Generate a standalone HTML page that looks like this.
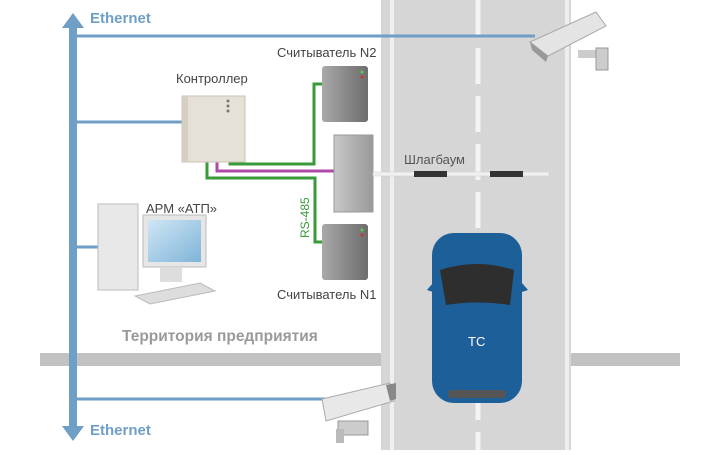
<!DOCTYPE html><html><head><meta charset="utf-8"><style>
body{margin:0;width:720px;height:450px;background:#fff;overflow:hidden;font-family:"Liberation Sans",sans-serif}
svg text{font-family:"Liberation Sans","Noto Sans CJK SC",sans-serif}
</style></head><body>
<svg width="720" height="450" viewBox="0 0 720 450">
<defs>
<linearGradient id="rd" x1="0" x2="1"><stop offset="0" stop-color="#aaa"/><stop offset=".5" stop-color="#8a8a8a"/><stop offset="1" stop-color="#6d6d6d"/></linearGradient>
<linearGradient id="gt" x1="0" x2="1"><stop offset="0" stop-color="#c8c8c8"/><stop offset="1" stop-color="#999"/></linearGradient>
<linearGradient id="scr" x1="0" y1="0" x2="1" y2="1"><stop offset="0" stop-color="#cfe6f5"/><stop offset="1" stop-color="#7fb4d8"/></linearGradient>
</defs>
<rect x="40" y="353" width="341" height="13" fill="#c2c2c2"/>
<rect x="571" y="353" width="109" height="13" fill="#c2c2c2"/>
<rect x="381" y="0" width="190" height="450" fill="#d6d6d6"/>
<rect x="390" y="0" width="4" height="450" fill="#efefef"/>
<rect x="565" y="0" width="4" height="450" fill="#efefef"/>
<line x1="478" y1="0" x2="478" y2="450" stroke="#f4f4f4" stroke-width="5" stroke-dasharray="36,12"/>
<rect x="69" y="26" width="8" height="402" fill="#6f9fc6"/>
<polygon points="62,28 73,13 84,28" fill="#6f9fc6"/>
<polygon points="62,426 73,441 84,426" fill="#6f9fc6"/>
<text x="90" y="23" font-size="15" font-weight="bold" fill="#6f9fc6">Ethernet</text>
<text x="90" y="435" font-size="15" font-weight="bold" fill="#6f9fc6">Ethernet</text>
<g stroke="#6f9fc6" stroke-width="3">
<line x1="77" y1="36" x2="535" y2="36"/><line x1="77" y1="122" x2="183" y2="122"/>
<line x1="77" y1="247" x2="98" y2="247"/><line x1="77" y1="399" x2="325" y2="399"/></g>
<g fill="none" stroke-width="3">
<polyline points="230,160 230,164 314,164 314,84 322,84" stroke="#3a9a3a"/>
<polyline points="207,160 207,178 315,178 315,242 322,242" stroke="#3a9a3a"/>
<polyline points="217,160 217,171 335,171" stroke="#b04aa8"/></g>
<text transform="translate(309,238) rotate(-90)" font-size="12" fill="#3a9a3a">RS-485</text>
<rect x="182" y="96" width="63" height="66" fill="#e6e1d6" stroke="#c9c3b6"/>
<rect x="182" y="96" width="6" height="66" fill="#d5cfc2"/>
<circle cx="228" cy="101" r="1.5" fill="#777"/><circle cx="228" cy="106" r="1.5" fill="#777"/><circle cx="228" cy="111" r="1.5" fill="#777"/>
<text x="176" y="83" font-size="13" fill="#444">Контроллер</text>
<rect x="322" y="66" width="46" height="56" rx="3" fill="url(#rd)"/>
<circle cx="362" cy="72" r="1.5" fill="#5c5"/><circle cx="362" cy="77" r="1.5" fill="#c33"/>
<rect x="322" y="224" width="46" height="56" rx="3" fill="url(#rd)"/>
<circle cx="362" cy="230" r="1.5" fill="#5c5"/><circle cx="362" cy="235" r="1.5" fill="#c33"/>
<text x="277" y="57" font-size="13" fill="#444">Считыватель N2</text>
<text x="277" y="299" font-size="13" fill="#444">Считыватель N1</text>
<rect x="334" y="135" width="39" height="77" fill="url(#gt)" stroke="#999"/>
<rect x="373" y="172" width="176" height="4" fill="#f0f0f0" stroke="#ccc" stroke-width=".5"/>
<rect x="414" y="171" width="33" height="6" fill="#333"/><rect x="490" y="171" width="33" height="6" fill="#333"/>
<text x="404" y="164" font-size="13" fill="#555">Шлагбаум</text>
<rect x="98" y="204" width="40" height="86" fill="#e8e8e8" stroke="#bbb"/>
<rect x="143" y="215" width="63" height="52" fill="#e6e6e6" stroke="#bbb"/>
<rect x="148" y="220" width="53" height="42" fill="url(#scr)"/>
<rect x="160" y="268" width="22" height="14" fill="#ddd"/>
<polygon points="135,296 200,283 215,291 150,304" fill="#ddd" stroke="#bbb"/>
<text x="146" y="213" font-size="13" fill="#444">АРМ «АТП»</text>
<text x="122" y="341" font-size="15.5" font-weight="bold" fill="#9a9a9a">Территория предприятия</text>
<rect x="432" y="233" width="90" height="170" rx="22" fill="#1d5f98"/>
<polygon points="427,290 433,283 433,292" fill="#1d5f98"/><polygon points="528,290 522,283 522,292" fill="#1d5f98"/>
<path d="M440 270 Q477 258 514 270 L510 305 Q477 300 446 305 Z" fill="#2e2e2e"/>
<rect x="448" y="390" width="58" height="8" rx="3" fill="#555"/>
<text x="468" y="346" font-size="13" fill="#fff">ТС</text>
<g transform="translate(530,12)">
<polygon points="0,30 66,0 76,14 18,44" fill="#e4e4e4" stroke="#aaa"/>
<polygon points="0,30 18,44 16,50 2,38" fill="#999"/>
<rect x="48" y="38" width="22" height="8" fill="#ccc"/><rect x="66" y="36" width="12" height="22" fill="#ccc" stroke="#999"/>
</g>
<g transform="translate(320,383)">
<polygon points="2,16 70,0 74,18 6,38" fill="#e8e8e8" stroke="#aaa"/>
<polygon points="66,2 76,0 76,16 70,18" fill="#888"/>
<rect x="18" y="38" width="30" height="14" fill="#ccc" stroke="#999"/><rect x="16" y="46" width="8" height="14" fill="#bbb"/>
</g>
</svg>
</body></html>
